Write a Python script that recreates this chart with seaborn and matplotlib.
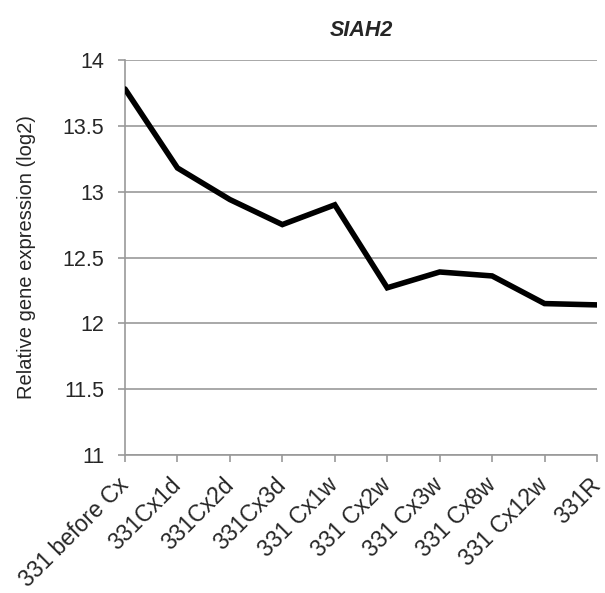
import matplotlib
matplotlib.use("Agg")
import matplotlib.pyplot as plt
import seaborn as sns
import pandas as pd
from matplotlib.transforms import ScaledTranslation

categories = ["331 before Cx", "331Cx1d", "331Cx2d", "331Cx3d", "331 Cx1w",
              "331 Cx2w", "331 Cx3w", "331 Cx8w", "331 Cx12w", "331R"]
values = [13.78, 13.18, 12.94, 12.75, 12.90, 12.27, 12.39, 12.36, 12.15, 12.14]
yticks = [11, 11.5, 12, 12.5, 13, 13.5, 14]
ytick_labels = ["11", "11.5", "12", "12.5", "13", "13.5", "14"]

sns.set_theme(style="white")
plt.rcParams['font.family'] = ['Liberation Sans', 'DejaVu Sans']

df = pd.DataFrame({"pos": range(len(categories)), "value": values})

W, H = 605, 593
L, R, T, B = 125, 597, 60, 455
fig = plt.figure(figsize=(W/100, H/100), dpi=100)
ax = fig.add_axes([L/W, 1 - B/H, (R-L)/W, (B-T)/H])

sns.lineplot(data=df, x="pos", y="value", ax=ax, color="black", linewidth=4,
             solid_joinstyle="miter", zorder=3)

ax.set_xlim(0, len(categories) - 1)
ax.set_ylim(11, 14)
ax.set_yticks(yticks)
ax.set_yticklabels(ytick_labels, fontsize=15.5)
ax.set_xticks(range(len(categories)))
ax.set_xticklabels(categories, rotation=45, ha="right", va="center",
                   rotation_mode="anchor", fontsize=16.5)
offset = ScaledTranslation(2/100, 0, fig.dpi_scale_trans)
for lab in ax.get_xticklabels():
    lab.set_transform(lab.get_transform() + offset)

ax.yaxis.grid(True, color="#999999", linewidth=1.2)
ax.xaxis.grid(False)
for s in ["top", "right"]:
    ax.spines[s].set_visible(False)
for s in ["left", "bottom"]:
    ax.spines[s].set_color("#999999")
    ax.spines[s].set_linewidth(1.2)

ax.tick_params(axis="y", which="major", length=5, color="#999999", width=1.2, pad=10, left=True)
ax.tick_params(axis="x", which="major", length=5, color="#999999", width=1.2, pad=14, bottom=True)

ax.set_xlabel("")
ax.set_ylabel("Relative gene expression (log2)", fontsize=14.5, labelpad=19)
ax.set_title("SIAH2", fontsize=15.5, fontweight="bold", fontstyle="italic", pad=17)

fig.savefig("out.png", dpi=100)
